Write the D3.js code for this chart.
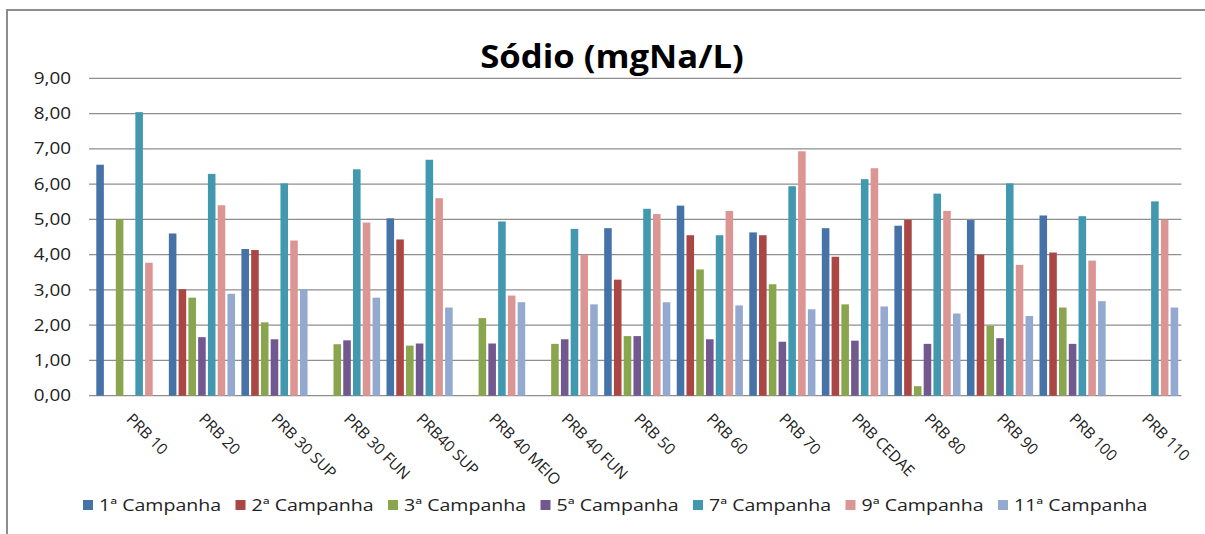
<!DOCTYPE html>
<html>
<head>
<meta charset="utf-8">
<script src="https://cdn.jsdelivr.net/npm/d3@7"></script>
<style>
  html, body { margin: 0; padding: 0; background: #fff; }
  svg { display: block; }
  text { font-family: "Open Sans", "Noto Sans", sans-serif; fill: #222; }
</style>
</head>
<body>
<svg id="chart" width="1205" height="534"></svg>
<script>
const categories = ["PRB 10","PRB 20","PRB 30 SUP","PRB 30 FUN","PRB40 SUP","PRB 40 MEIO","PRB 40 FUN","PRB 50","PRB 60","PRB 70","PRB CEDAE","PRB 80","PRB 90","PRB 100","PRB 110"];
const seriesNames = ["1ª Campanha","2ª Campanha","3ª Campanha","5ª Campanha","7ª Campanha","9ª Campanha","11ª Campanha"];
const campanha1  = [6.55,4.60,4.16,null,5.03,null,null,4.75,5.39,4.63,4.75,4.82,4.98,5.11,null];
const campanha2  = [null,3.02,4.13,null,4.43,null,null,3.29,4.55,4.55,3.94,4.99,4.00,4.06,null];
const campanha3  = [5.00,2.78,2.08,1.46,1.42,2.20,1.47,1.69,3.58,3.16,2.59,0.27,1.98,2.50,null];
const campanha5  = [null,1.66,1.60,1.57,1.48,1.48,1.60,1.69,1.60,1.53,1.56,1.47,1.63,1.47,null];
const campanha7  = [8.04,6.29,6.02,6.42,6.69,4.94,4.73,5.30,4.55,5.94,6.14,5.73,6.02,5.09,5.51];
const campanha9  = [3.77,5.40,4.40,4.91,5.60,2.84,4.00,5.15,5.24,6.93,6.45,5.24,3.71,3.83,4.99];
const campanha11 = [null,2.89,3.02,2.78,2.50,2.65,2.59,2.65,2.56,2.45,2.53,2.33,2.26,2.68,2.50];
const yTicks = [0,1,2,3,4,5,6,7,8,9];
const colors = ["#4572A7","#AA4643","#89A54E","#71588F","#4198AF","#DB9694","#93A9CF"];

const seriesValues = [campanha1,campanha2,campanha3,campanha5,campanha7,campanha9,campanha11];
const SX = 1.18;
const fmt = v => d3.format(".2f")(v).replace(".", ",");

const svg = d3.select("#chart");

// chart frame
svg.append("path").attr("d","M7,540 L7,10 L1210,10")
  .attr("fill","none").attr("stroke","#8c8c8c").attr("stroke-width",2);

const x0 = d3.scaleBand().domain(categories).range([93.1, 1181.4]).padding(0);
const x1 = d3.scaleBand().domain(seriesNames).range([2.1, x0.bandwidth() - 2.1]).padding(0);
const y = d3.scaleLinear().domain([0, 9]).range([395.7, 78.3]);

// gridlines
svg.append("g").selectAll("line").data(yTicks).join("line")
  .attr("x1", 89).attr("x2", 1181.4)
  .attr("y1", d => y(d)).attr("y2", d => y(d))
  .attr("stroke", "#8e8e8e").attr("stroke-width", 1.3);

// y labels
svg.append("g").selectAll("text").data(yTicks).join("text")
  .attr("transform", d => `translate(71,${y(d)}) scale(${SX},1)`)
  .attr("text-anchor","end").attr("dy","0.35em")
  .style("font-size","16px")
  .text(d => fmt(d));

// bars
const bars = [];
categories.forEach((c, ci) => {
  seriesNames.forEach((s, si) => {
    const v = seriesValues[si][ci];
    if (v != null) bars.push({c, s, si, v});
  });
});
svg.append("g").selectAll("rect").data(bars).join("rect")
  .attr("x", d => x0(d.c) + x1(d.s) + 1.1)
  .attr("width", x1.bandwidth() - 2.2)
  .attr("y", d => y(d.v))
  .attr("height", d => y(0) - y(d.v))
  .attr("fill", d => colors[d.si]);

// x labels
svg.append("g").selectAll("text").data(categories).join("text")
  .attr("transform", d => `translate(${x0(d) + x0.bandwidth()/2 - 4},420) rotate(45)`)
  .attr("text-anchor","start")
  .style("font-size","15.5px")
  .text(d => d);

// title
svg.append("text")
  .attr("transform", `translate(612,68) scale(1.05,1)`)
  .attr("text-anchor","middle")
  .style("font-size","33px").style("font-weight","bold").style("fill","#000")
  .text("Sódio (mgNa/L)");

// legend
const lg = svg.append("g").selectAll("g").data(seriesNames).join("g")
  .attr("transform", (d,i) => `translate(83,500) translate(${i*152.5},0)`);
lg.append("rect").attr("width",10).attr("height",10).attr("fill",(d,i)=>colors[i]);
lg.append("text")
  .attr("transform", `translate(16,5) scale(1.2,1)`)
  .attr("dy","0.35em").style("font-size","16.3px")
  .text(d => d);
</script>
</body>
</html>
